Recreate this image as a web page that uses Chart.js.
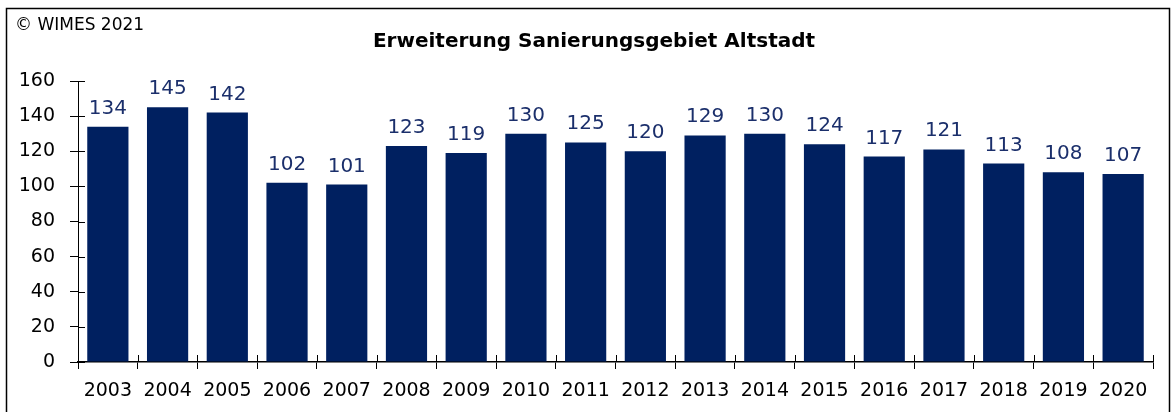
<!DOCTYPE html>
<html>
<head>
<meta charset="utf-8">
<script src="https://cdn.jsdelivr.net/npm/chart.js@4"></script>
<style>
  html, body { margin: 0; padding: 0; background: #fff; }
  #wrap { position: relative; width: 1173px; height: 412px; }
</style>
</head>
<body>
<div id="wrap"><canvas id="chart"></canvas></div>
<script>
// Daten
const jahre = ['2003', '2004', '2005', '2006', '2007', '2008', '2009', '2010', '2011',
               '2012', '2013', '2014', '2015', '2016', '2017', '2018', '2019', '2020'];
const werte = [134, 145, 142, 102, 101, 123, 119, 130, 125, 120, 129, 130, 124, 117, 121, 113, 108, 107];
const yTicks = [0, 20, 40, 60, 80, 100, 120, 140, 160];

const titel = 'Erweiterung Sanierungsgebiet Altstadt';
const copyright = '© WIMES 2021';

const FONT = '"DejaVu Sans", Verdana, sans-serif';
const balkenFarbe = '#002060';
const labelFarbe = '#1b2f6b';

// Rahmen, Titel, Copyright, Werte über den Balken, innere Tickstriche
const extras = {
    id: 'extras',
    afterDraw(chart) {
        const ctx = chart.ctx;
        const xs = chart.scales.x;
        const ys = chart.scales.y;
        ctx.save();

        // Rahmen
        ctx.strokeStyle = '#000';
        ctx.lineWidth = 1.5;
        ctx.strokeRect(6.5, 8.5, 1163, 420);

        // Copyright
        ctx.fillStyle = '#000';
        ctx.font = '17px ' + FONT;
        ctx.textAlign = 'left';
        ctx.textBaseline = 'middle';
        ctx.fillText(copyright, 15, 26);

        // Titel
        ctx.font = 'bold 20px ' + FONT;
        ctx.textAlign = 'center';
        ctx.fillText(titel, 594, 42);

        // innere Tickstriche (kreuzen die Achse)
        ctx.strokeStyle = '#000';
        ctx.lineWidth = 1;
        ctx.beginPath();
        yTicks.forEach(v => {
            const y = Math.round(ys.getPixelForValue(v)) + 0.5;
            ctx.moveTo(xs.left, y);
            ctx.lineTo(xs.left + 7, y);
        });
        for (let i = 0; i <= jahre.length; i++) {
            const x = Math.round(xs.left + (xs.right - xs.left) * i / jahre.length) + 0.5;
            ctx.moveTo(x, ys.bottom);
            ctx.lineTo(x, ys.bottom - 7);
        }
        ctx.stroke();

        // Werte
        const meta = chart.getDatasetMeta(0);
        ctx.fillStyle = labelFarbe;
        ctx.font = '20px ' + FONT;
        ctx.textAlign = 'center';
        ctx.textBaseline = 'alphabetic';
        meta.data.forEach((bar, i) => {
            ctx.fillText(String(werte[i]), bar.x, bar.y - 13);
        });
        ctx.restore();
    }
};

const chart = new Chart(document.getElementById('chart'), {
    type: 'bar',
    data: {
        labels: jahre,
        datasets: [{
            data: werte,
            backgroundColor: balkenFarbe,
            borderWidth: 0,
            barPercentage: 0.69,
            categoryPercentage: 1.0
        }]
    },
    options: {
        responsive: true,
        maintainAspectRatio: false,
        animation: false,
        devicePixelRatio: 1,
        layout: { padding: { top: 81, right: 20, left: 0, bottom: 0 } },
        plugins: {
            legend: { display: false },
            title: { display: false },
            tooltip: { enabled: false }
        },
        scales: {
            x: {
                offset: true,
                afterFit(scale) { scale.height = 50; },
                grid: {
                    offset: true,
                    drawOnChartArea: false,
                    drawTicks: true,
                    tickLength: 7,
                    color: '#000'
                },
                border: { display: true, color: '#000', width: 1.5 },
                ticks: {
                    color: '#000',
                    font: { family: FONT, size: 19 },
                    padding: 11,
                    maxRotation: 0,
                    autoSkip: false
                }
            },
            y: {
                min: 0,
                max: 160,
                afterFit(scale) { scale.width = 78; },
                afterBuildTicks(scale) { scale.ticks = yTicks.map(v => ({ value: v })); },
                grid: {
                    drawOnChartArea: false,
                    drawTicks: true,
                    tickLength: 8,
                    color: '#000'
                },
                border: { display: true, color: '#000', width: 1 },
                ticks: {
                    color: '#000',
                    font: { family: FONT, size: 19 },
                    padding: 15
                }
            }
        }
    },
    plugins: [extras]
});
</script>
</body>
</html>
